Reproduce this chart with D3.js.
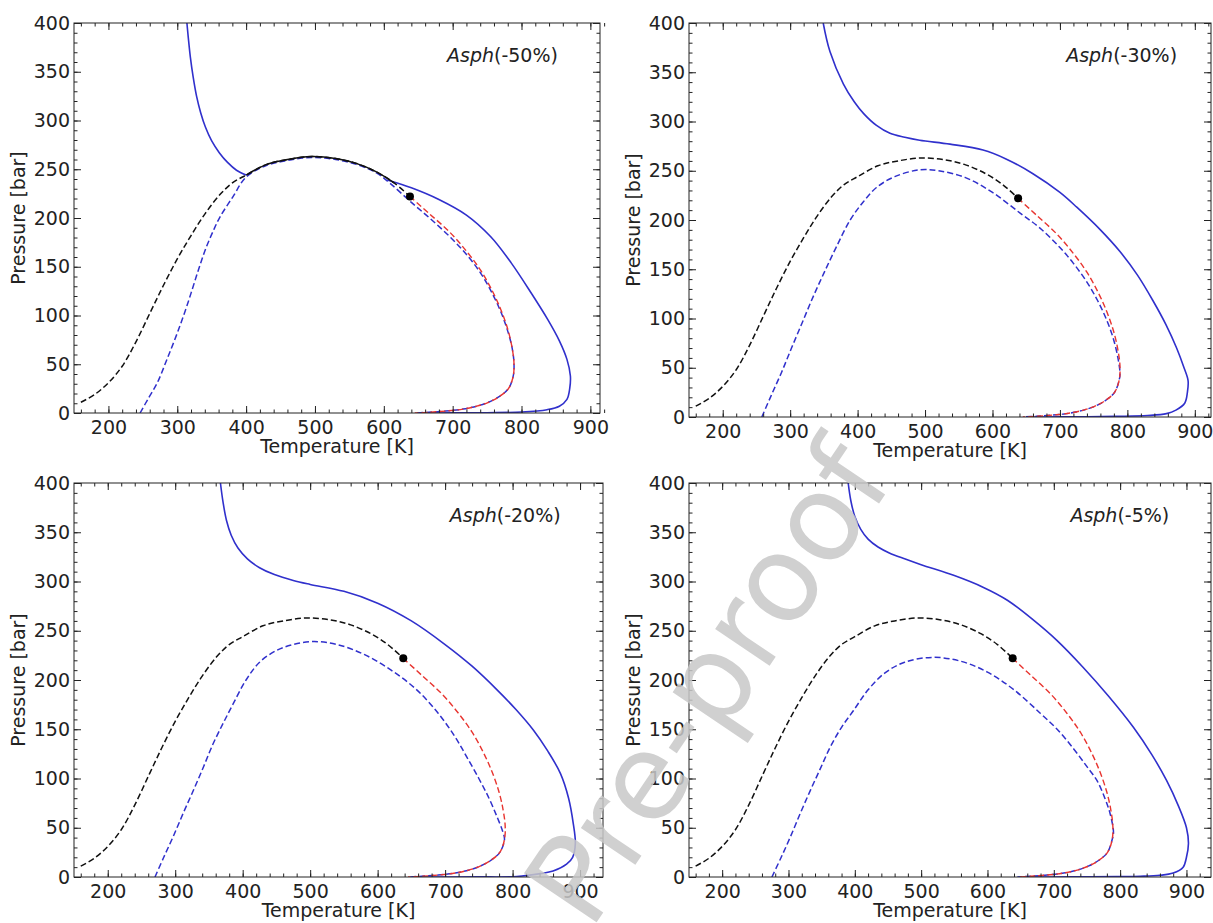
<!DOCTYPE html>
<html>
<head>
<meta charset="utf-8">
<script src="https://cdn.jsdelivr.net/npm/d3@7"></script>
<style>
  body { margin: 0; background: #fff; }
  svg { display: block; }
  text { font-family: "DejaVu Sans", sans-serif; }
</style>
</head>
<body>
<svg id="chart" width="1213" height="923"></svg>
<script>
// --- Etiquetas y ejes ---
const panelSuffix = ["(-50%)", "(-30%)", "(-20%)", "(-5%)"];
const xMin = 150;
const xMaxByPanel = [914, 924, 934, 937];
const xMajor = [200, 300, 400, 500, 600, 700, 800, 900];
const xMinor = d3.range(160, 940, 20);
const yMajor = [0, 50, 100, 150, 200, 250, 300, 350, 400];
const yMinor = d3.range(0, 401, 10);

// --- Curvas comunes (fluido base): burbuja, rocio y punto critico [T, P] ---
const bubbleCurve = [[160,11],[180,19],[200,31],[220,48],[240,73],[262,105],[280,131],[300,158],
  [320,182],[340,204],[362,224],[380,236],[400,244],[430,255],[460,260],[495,263],[530,261],
  [560,256],[590,247],[615,236],[638,222]];
const dewCurve = [[638,222],[665,205],[695,186],[720,166],[740,147],[757,126],[770,106],[780,86],
  [786,68],[789,52],[788,38],[781,25],[768,17],[752,11],[735,7],[715,4],[690,2],[665,0.7],[645,0]];
const criticalPoint = [638, 222];

// --- Onset superior (azul continuo) por panel ---
const upper50Left = [[314,400],[316,385],[319,365],[323,345],[328,325],[334,308],[341,293],
  [350,279],[361,267],[373,257],[386,249],[400,244]];
const upper50Right = [[605,239],[640,231],[680,219],[720,203],[755,181],[785,154],[815,122],
  [838,96],[855,74],[866,55],[871,38],[870,25],[866,14],[855,7],[837,3.4],[800,1],[750,0.3],
  [700,0.1],[650,0]];
const upper30 = [[349,400],[359,371],[379,338],[395,320],[409,308],[428,296],[448,288],[470,284],
  [492,281],[537,277],[586,271],[620,262],[660,247],[700,228],[725,213],[760,190],[789,168],
  [815,144],[838,118],[857,94],[873,70],[884,50],[890,37],[889,25],[885,14],[872,7],[858,3.4],
  [830,1.5],[784,0.7],[740,0.3],[700,0.1],[650,0]];
const upper20 = [[367,400],[371,380],[376,362],[383,347],[393,334],[407,323],[425,314],[447,307],
  [475,301],[500,297],[550,290],[600,278],[650,260],[700,236],[740,214],[777,190],[805,170],
  [831,149],[852,128],[871,105],[883,80],[890,54],[893,34],[889,20],[880,13],[860,6],[841,3.4],
  [806,0.5],[750,0.1],[700,0],[652,0]];
const upper05 = [[390,400],[394,382],[400,366],[409,353],[420,343],[435,335],[452,329],[475,323],
  [500,317],[550,306],[594,294],[630,281],[669,261],[705,240],[744,213],[782,184],[820,152],
  [848,124],[870,98],[888,72],[900,50],[903,34],[900,20],[895,10],[880,4],[860,1.7],[830,0.8],
  [795,0.5],[750,0.2],[700,0],[660,0]];

// --- Onset inferior (azul discontinuo) por panel ---
const lower50 = [[246,0],[258,15],[271,31],[285,55],[300,82],[315,112],[329,143],[341,168],
  [353,188],[362,201],[381,222],[400,242],[430,254],[460,259],[495,262],[530,260],[560,255],
  [590,246],[610,235],[640,216],[668,199],[697,180],[722,161],[742,142],[758,122],[771,102],
  [780,84],[786,68],[789,52],[788,38],[781,25],[768,17],[752,11],[735,7],[715,4],[690,2],
  [665,0.7],[645,0]];
const lower30 = [[258,0],[272,22],[287,45],[302,70],[318,96],[334,122],[350,146],[368,172],
  [389,200],[408,218],[428,233],[455,244],[492,251],[520,250],[560,243],[600,228],[641,207],
  [670,192],[700,172],[720,156],[740,137],[756,118],[769,99],[779,80],[786,60],[789,45],[788,38],
  [781,25],[768,17],[752,11],[735,7],[715,4],[690,2],[665,0.7],[645,0]];
const lower20 = [[270,0],[283,20],[297,41],[312,65],[327,88],[342,112],[356,135],[371,156],
  [386,176],[405,200],[425,218],[450,230],[475,236],[505,239],[540,236],[580,226],[620,210],
  [658,190],[690,166],[715,142],[732,122],[750,100],[765,80],[777,61],[785,47],[788,38],[781,25],
  [768,17],[752,11],[735,7],[715,4],[690,2],[665,0.7],[645,0]];
const lower05 = [[275,0],[289,20],[303,41],[318,65],[333,88],[348,110],[363,132],[380,152],
  [398,169],[420,190],[445,207],[475,218],[518,223],[560,219],[600,208],[640,190],[680,166],
  [705,150],[730,130],[750,112],[765,98],[777,80],[785,64],[790,45],[788,38],[781,25],[768,17],
  [752,11],[735,7],[715,4],[690,2],[665,0.7],[645,0]];

const upperByPanel = [[upper50Left, upper50Right], [upper30], [upper20], [upper05]];
const lowerByPanel = [lower50, lower30, lower20, lower05];

// --- Disposicion de los cuatro ejes (pixeles) ---
const layout = [
  { left: 74,  right: 600,  top: 23,  bottom: 413, labelFrac: 0.92 },
  { left: 689, right: 1211, top: 23,  bottom: 417, labelFrac: 0.935 },
  { left: 74,  right: 603,  top: 483, bottom: 877, labelFrac: 0.92 },
  { left: 689, right: 1211, top: 483, bottom: 877, labelFrac: 0.92 }
];

const FONT = 19;
const BLUE = "#3030cc";
const RED = "#e8342f";
const INK = "#222";
const svg = d3.select("#chart");

function styleAxis(sel) {
  sel.select(".domain").remove();
  sel.selectAll("line").attr("stroke", INK).attr("stroke-width", 1);
  sel.selectAll("text").attr("fill", INK).attr("font-size", FONT)
    .attr("font-family", "DejaVu Sans, sans-serif");
}

function drawPanel(i) {
  const L = layout[i];
  const x = d3.scaleLinear().domain([xMin, xMaxByPanel[i]]).range([L.left, L.right]);
  const y = d3.scaleLinear().domain([0, 400]).range([L.bottom, L.top]);
  const g = svg.append("g");

  g.append("clipPath").attr("id", "clip" + i)
    .append("rect").attr("x", L.left).attr("y", L.top)
    .attr("width", L.right - L.left).attr("height", L.bottom - L.top);

  const line = d3.line().x(d => x(d[0])).y(d => y(d[1])).curve(d3.curveCatmullRom.alpha(0.5));
  const plot = g.append("g").attr("clip-path", `url(#clip${i})`);

  // onset superior
  upperByPanel[i].forEach(seg => {
    plot.append("path").attr("d", line(seg)).attr("fill", "none")
      .attr("stroke", BLUE).attr("stroke-width", 1.6);
  });
  // onset inferior
  plot.append("path").attr("d", line(lowerByPanel[i])).attr("fill", "none")
    .attr("stroke", BLUE).attr("stroke-width", 1.5).attr("stroke-dasharray", "6,3");
  // curva de burbuja
  plot.append("path").attr("d", line(bubbleCurve)).attr("fill", "none")
    .attr("stroke", "#111").attr("stroke-width", 1.5).attr("stroke-dasharray", "6,3");
  // en el panel -50% la envolvente coincide con el onset: tramo continuo
  if (i === 0) {
    plot.append("path").attr("d", line(bubbleCurve.filter(d => d[0] >= 400 && d[0] <= 615)))
      .attr("fill", "none").attr("stroke", "#111").attr("stroke-width", 1.5);
  }
  // curva de rocio
  plot.append("path").attr("d", line(dewCurve)).attr("fill", "none")
    .attr("stroke", RED).attr("stroke-width", 1.4).attr("stroke-dasharray", "6,3");
  // punto critico
  plot.append("circle").attr("cx", x(criticalPoint[0])).attr("cy", y(criticalPoint[1]))
    .attr("r", 4).attr("fill", "#000");

  // marco
  g.append("rect").attr("x", L.left).attr("y", L.top)
    .attr("width", L.right - L.left).attr("height", L.bottom - L.top)
    .attr("fill", "none").attr("stroke", INK).attr("stroke-width", 1);

  // ticks hacia dentro en los cuatro lados
  const fmt = d3.format("d");
  g.append("g").attr("transform", `translate(0,${L.bottom})`)
    .call(d3.axisBottom(x).tickValues(xMajor).tickSizeInner(-7).tickSizeOuter(0).tickPadding(7.5).tickFormat(fmt))
    .call(styleAxis);
  g.append("g").attr("transform", `translate(0,${L.bottom})`)
    .call(d3.axisBottom(x).tickValues(xMinor).tickSize(-3.5).tickFormat(""))
    .call(styleAxis);
  g.append("g").attr("transform", `translate(0,${L.top})`)
    .call(d3.axisTop(x).tickValues(xMajor).tickSize(-7).tickFormat(""))
    .call(styleAxis);
  g.append("g").attr("transform", `translate(0,${L.top})`)
    .call(d3.axisTop(x).tickValues(xMinor).tickSize(-3.5).tickFormat(""))
    .call(styleAxis);
  g.append("g").attr("transform", `translate(${L.left},0)`)
    .call(d3.axisLeft(y).tickValues(yMajor).tickSizeInner(-7).tickSizeOuter(0).tickPadding(4).tickFormat(fmt))
    .call(styleAxis);
  g.append("g").attr("transform", `translate(${L.left},0)`)
    .call(d3.axisLeft(y).tickValues(yMinor).tickSize(-3.5).tickFormat(""))
    .call(styleAxis);
  g.append("g").attr("transform", `translate(${L.right},0)`)
    .call(d3.axisRight(y).tickValues(yMajor).tickSize(-7).tickFormat(""))
    .call(styleAxis);
  g.append("g").attr("transform", `translate(${L.right},0)`)
    .call(d3.axisRight(y).tickValues(yMinor).tickSize(-3.5).tickFormat(""))
    .call(styleAxis);

  // titulos de ejes
  g.append("text").attr("x", (L.left + L.right) / 2).attr("y", L.bottom + 40)
    .attr("text-anchor", "middle").attr("font-size", FONT).attr("fill", INK)
    .text("Temperature [K]");
  g.append("text")
    .attr("transform", `translate(${L.left - 49},${(L.top + L.bottom) / 2}) rotate(-90)`)
    .attr("text-anchor", "middle").attr("font-size", FONT).attr("fill", INK)
    .text("Pressure [bar]");

  // etiqueta del caso
  const lab = g.append("text")
    .attr("x", L.left + L.labelFrac * (L.right - L.left)).attr("y", L.top + 39)
    .attr("text-anchor", "end").attr("font-size", FONT).attr("fill", INK);
  lab.append("tspan").attr("font-style", "italic").text("Asph");
  lab.append("tspan").text(panelSuffix[i]);
}

d3.range(4).forEach(drawPanel);

// marca de agua de la prueba de imprenta
svg.append("text")
  .attr("transform", "translate(590,932) rotate(-56)")
  .style("font-family", "'DejaVu Sans', sans-serif")
  .attr("font-size", 120)
  .attr("fill", "#c8c8c8").attr("opacity", 0.85)
  .text("Pre-proof");
</script>
</body>
</html>
